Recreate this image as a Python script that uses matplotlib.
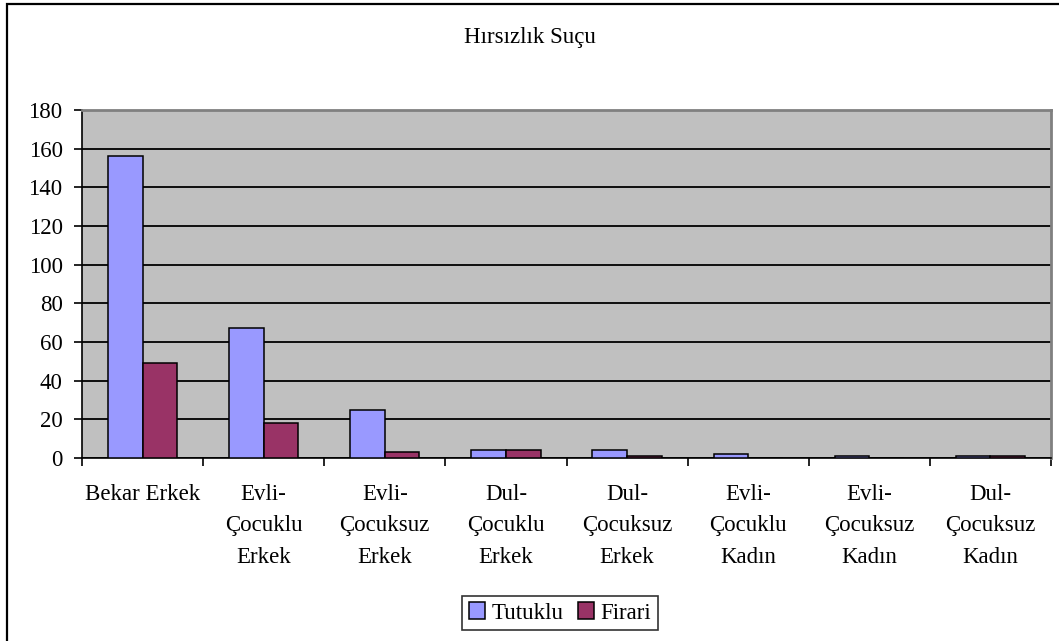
import matplotlib.pyplot as plt
import matplotlib.patches as patches
import numpy as np

plt.rcParams['font.family'] = ['Liberation Serif', 'DejaVu Serif']
plt.rcParams['font.size'] = 16.5

# Data
categories = ['Bekar Erkek', 'Evli-\nÇocuklu\nErkek', 'Evli-\nÇocuksuz\nErkek',
              'Dul-\nÇocuklu\nErkek', 'Dul-\nÇocuksuz\nErkek', 'Evli-\nÇocuklu\nKadın',
              'Evli-\nÇocuksuz\nKadın', 'Dul-\nÇocuksuz\nKadın']
tutuklu = [156, 67, 25, 4, 4, 2, 1, 1]
firari = [49, 18, 3, 4, 1, 0, 0, 1]
y_ticks = list(range(0, 181, 20))

COLOR_TUTUKLU = '#9999FF'
COLOR_FIRARI = '#993366'
PLOT_BG = '#C0C0C0'

fig = plt.figure(figsize=(10.59, 6.41), dpi=100)
ax = fig.add_axes([82/1059, 1 - 458/641, (1051 - 82)/1059, (458 - 110)/641])
ax.set_facecolor(PLOT_BG)

x = np.arange(len(categories))
width = 1 / 3.5

ax.bar(x - width/2, tutuklu, width, color=COLOR_TUTUKLU, edgecolor='black',
       linewidth=1.1, label='Tutuklu', zorder=3)
ax.bar(x + width/2, firari, width, color=COLOR_FIRARI, edgecolor='black',
       linewidth=1.1, label='Firari', zorder=3)

ax.set_xlim(-0.5, len(categories) - 0.5)
ax.set_ylim(0, 180)
ax.set_yticks(y_ticks)
ax.yaxis.grid(True, color='black', linewidth=1.3, zorder=1)
ax.set_axisbelow(True)

ax.set_xticks(x)
ax.set_xticklabels(categories, linespacing=1.63, va='top')
ax.set_xticks(np.arange(-0.5, len(categories)), minor=True)
ax.tick_params(axis='x', which='major', length=0, pad=19)
ax.tick_params(axis='x', which='minor', length=6, width=1.2, direction='out')
ax.tick_params(axis='y', length=6, width=1.2, direction='out', pad=8)

for side in ['top', 'right']:
    ax.spines[side].set_color('#808080')
    ax.spines[side].set_linewidth(2)
for side in ['left', 'bottom']:
    ax.spines[side].set_color('black')
    ax.spines[side].set_linewidth(1.2)

# outer chart frame
frame = patches.Rectangle((7/1059, -0.05), 1.1, 1 - 4/641 + 0.05,
                          transform=fig.transFigure, fill=False,
                          edgecolor='black', linewidth=1.6)
fig.patches.append(frame)

fig.text(0.5, 1 - 38/641, 'Hırsızlık Suçu', ha='center', va='center', fontsize=16.5)

leg = fig.legend(loc='center', bbox_to_anchor=(560/1059, 1 - 613/641),
                 ncol=2, frameon=True, fancybox=False, edgecolor='black',
                 handlelength=0.7, handleheight=0.7, handletextpad=0.3,
                 columnspacing=0.6, borderpad=0.3, borderaxespad=0)
leg.get_frame().set_linewidth(1.2)

fig.savefig('out.png', dpi=100)
